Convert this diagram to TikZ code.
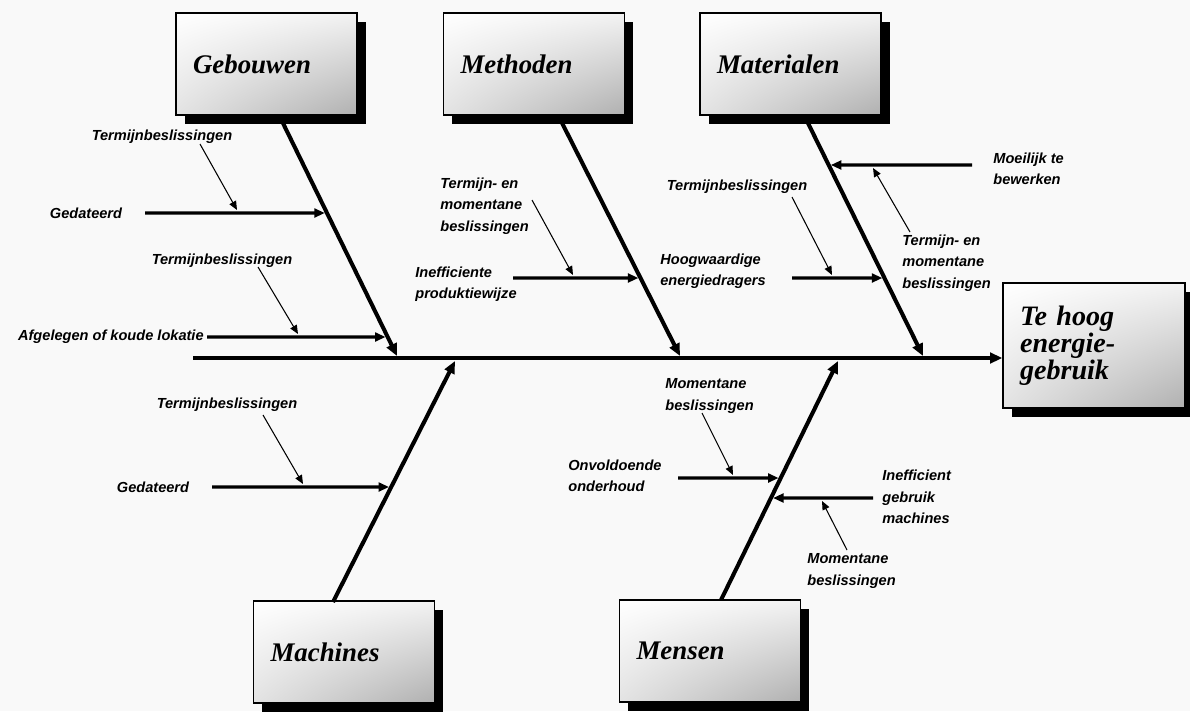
\documentclass[tikz,border=0pt]{standalone}
\usepackage{fontspec}
\setmainfont{Liberation Serif}
\newfontfamily\labfont{Liberation Sans}
\usetikzlibrary{arrows.meta,calc,shadings,shadows}

\begin{document}
\begin{tikzpicture}[x=0.02cm,y=-0.02cm,
  boxshade/.style={draw=black, line width=0.8pt,
    upper left=white, upper right=gray!10, lower left=gray!22, lower right=gray!62,
    drop shadow={fill=black, opacity=1, shadow xshift=5.1pt, shadow yshift=-5.1pt}},
  causebox/.style={boxshade, minimum width=3.62cm, minimum height=2.04cm,
    text width=2.94cm, inner xsep=0.34cm, inner ysep=0pt, align=left,
    font=\fontsize{15.3}{17}\selectfont\bfseries\itshape},
  effectbox/.style={boxshade, minimum width=3.64cm, minimum height=2.5cm,
    text width=2.96cm, inner xsep=0.34cm, inner ysep=0pt, align=left,
    font=\fontsize{16}{15.4}\selectfont\bfseries\itshape},
  lab/.style={inner sep=0pt, align=left,
    font=\labfont\fontsize{8.3}{12.2}\selectfont\bfseries\itshape},
  spine/.style={line width=2.5pt, -{Triangle[length=7pt,width=6pt]}},
  bone/.style={line width=2.3pt, -{Triangle[length=7pt,width=6pt]}},
  sub/.style={line width=1.8pt, -{Triangle[length=6pt,width=5pt]}, shorten >=1.2pt},
  thin/.style={line width=0.6pt, -{Triangle[length=5pt,width=4.2pt]}}]

% page and background
\useasboundingbox (0,0) rectangle (1190,711);
\fill[gray!5] (0,0) rectangle (1190,711);

% cause boxes and effect box
\node[causebox] (geb) at (266.5,64) {Gebouwen};
\node[causebox] (met) at (534,64) {Methoden};
\node[causebox] (mat) at (790.5,64) {Materialen};
\node[causebox] (mac) at (344,652) {Machines};
\node[causebox] (men) at (710,651) {Mensen};
\node[effectbox] (eff) at (1094,345.5) {Te hoog\\energie-\\gebruik};

% spine
\coordinate (sp0) at (193,358);
\draw[spine] (sp0) -- (sp0 -| eff.west);

% bone end points
\coordinate (gS) at (279,115); \coordinate (gT) at (397,356);
\coordinate (mS) at (558,115); \coordinate (mT) at (680,356);
\coordinate (aS) at (804,115); \coordinate (aT) at (923,356);
\coordinate (cS) at (333,602); \coordinate (cT) at (455,361);
\coordinate (pS) at (721,600); \coordinate (pT) at (838,361);

\draw[bone] (gS) -- (gT);
\draw[bone] (mS) -- (mT);
\draw[bone] (aS) -- (aT);
\draw[bone] (cS) -- (cT);
\draw[bone] (pS) -- (pT);

% points where the sub-causes meet their bones
\coordinate (g1t) at ($(gS)!{98/241}!(gT)$);
\coordinate (g2t) at ($(gS)!{222/241}!(gT)$);
\coordinate (m1t) at ($(mS)!{163/241}!(mT)$);
\coordinate (a1t) at ($(aS)!{163/241}!(aT)$);
\coordinate (a2t) at ($(aS)!{50/241}!(aT)$);
\coordinate (c1t) at ($(cS)!{115/241}!(cT)$);
\coordinate (p1t) at ($(pS)!{122/239}!(pT)$);
\coordinate (p2t) at ($(pS)!{102/239}!(pT)$);

% free ends of the sub-cause arrows
\coordinate (g1s) at (145,213);
\coordinate (g2s) at (207,337);
\coordinate (m1s) at (513,278);
\coordinate (a1s) at (792,278);
\coordinate (a2s) at (972,165);
\coordinate (c1s) at (212,487);
\coordinate (p1s) at (678,478);
\coordinate (p2s) at (873,498);

\draw[sub] (g1s) -- (g1t);
\draw[sub] (g2s) -- (g2t);
\draw[sub] (m1s) -- (m1t);
\draw[sub] (a1s) -- (a1t);
\draw[sub] (a2s) -- (a2t);
\draw[sub] (c1s) -- (c1t);
\draw[sub] (p1s) -- (p1t);
\draw[sub] (p2s) -- (p2t);

% labels
\node[lab] (lg1) at (162,137) {Termijnbeslissingen};
\node[lab] (lg2) at (86,213) {Gedateerd};
\node[lab] (lg3) at (222,261) {Termijnbeslissingen};
\node[lab, anchor=east] (lg4) at (204,337) {Afgelegen of koude lokatie};
\node[lab, anchor=west] (lm1) at (440,206) {Termijn- en\\momentane\\beslissingen};
\node[lab, anchor=west] (lm2) at (415,284) {Inefficiente\\produktiewijze};
\node[lab] (la1) at (737,187) {Termijnbeslissingen};
\node[lab, anchor=west] (la2) at (660,271) {Hoogwaardige\\energiedragers};
\node[lab, anchor=west] (la3) at (993,169) {Moeilijk te\\bewerken};
\node[lab, anchor=west] (la4) at (902,263) {Termijn- en\\momentane\\beslissingen};
\node[lab] (lc1) at (227,405) {Termijnbeslissingen};
\node[lab] (lc2) at (153,487) {Gedateerd};
\node[lab, anchor=west] (lp1) at (665,396) {Momentane\\beslissingen};
\node[lab, anchor=west] (lp2) at (568,476) {Onvoldoende\\onderhoud};
\node[lab, anchor=west] (lp3) at (882,497) {Inefficient\\gebruik\\machines};
\node[lab, anchor=west] (lp4) at (807,571) {Momentane\\beslissingen};

% influence arrows from the decision labels
\coordinate (k1s) at (200,144); \coordinate (k1t) at (237,210);
\coordinate (k2s) at (258,267); \coordinate (k2t) at (298,334);
\coordinate (k3s) at (532,200); \coordinate (k3t) at (573,275);
\coordinate (k4s) at (792,197); \coordinate (k4t) at (832,275);
\coordinate (k5s) at (910,232); \coordinate (k5t) at (873,168);
\coordinate (k6s) at (263,415); \coordinate (k6t) at (303,484);
\coordinate (k7s) at (702,413); \coordinate (k7t) at (733,475);
\coordinate (k8s) at (847,550); \coordinate (k8t) at (822,501);

\draw[thin] (k1s) -- (k1t);
\draw[thin] (k2s) -- (k2t);
\draw[thin] (k3s) -- (k3t);
\draw[thin] (k4s) -- (k4t);
\draw[thin] (k5s) -- (k5t);
\draw[thin] (k6s) -- (k6t);
\draw[thin] (k7s) -- (k7t);
\draw[thin] (k8s) -- (k8t);
\end{tikzpicture}
\end{document}
